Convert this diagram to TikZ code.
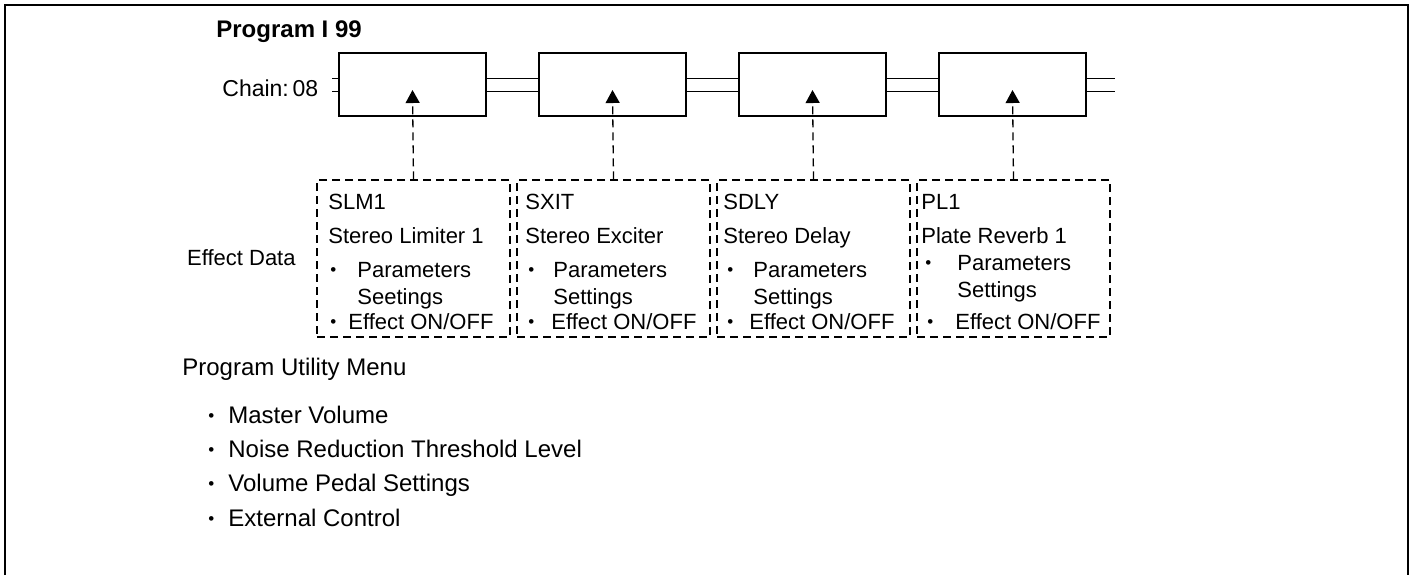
\documentclass[tikz,border=0pt]{standalone}
\usepackage{fontspec}
\setmainfont{Liberation Sans}
\usetikzlibrary{arrows.meta,positioning}

\newcommand{\smallbul}{\raisebox{0.8pt}{\fontsize{8.5}{8.5}\selectfont\textbullet}}

\tikzset{
  fxbox/.style={draw, line width=0.7pt, minimum width=73.5pt, minimum height=31.5pt, inner sep=0pt},
  databox/.style={draw, line width=0.65pt, dash pattern=on 4pt off 2.5pt, minimum width=96.5pt, minimum height=78.5pt, inner sep=0pt},
  link/.style={line width=0.65pt, dash pattern=on 4pt off 2.5pt, -{Triangle[width=7pt,length=6.5pt]}},
  chainline/.style={line width=0.7pt},
  lbl/.style={anchor=base west, inner sep=0pt, font=\fontsize{11.5}{14}\selectfont},
  boxtxt/.style={anchor=base west, inner sep=0pt, font=\fontsize{11}{13}\selectfont},
  menutxt/.style={anchor=base west, inner sep=0pt, font=\fontsize{12}{14}\selectfont},
}

\begin{document}
\begin{tikzpicture}[x=0.5pt, y=-0.5pt]
    \useasboundingbox (0,0) rectangle (1413,575);

    % Outer frame (open at the bottom)
    \draw[line width=0.6pt] (5,575) -- (5,5) -- (1408,5) -- (1408,575);

    % Heading
    \node[lbl, font=\fontsize{12}{14}\selectfont\bfseries] (prog) at (216,37) {Program I 99};
    \node[lbl] (chainlbl) at (222,96) {Chain:\,08};

    % Effect blocks of the chain
    \node[fxbox] (fx1) at (412.5,84.5) {};
    \node[fxbox] (fx2) at (612.5,84.5) {};
    \node[fxbox] (fx3) at (812.5,84.5) {};
    \node[fxbox] (fx4) at (1012.5,84.5) {};

    % Double signal lines
    \draw[chainline] ([yshift=3pt]fx1.west) -- ++(-3pt,0);
    \draw[chainline] ([yshift=-3.5pt]fx1.west) -- ++(-3pt,0);
    \draw[chainline] ([yshift=3pt]fx1.east) -- ([yshift=3pt]fx2.west);
    \draw[chainline] ([yshift=-3.5pt]fx1.east) -- ([yshift=-3.5pt]fx2.west);
    \draw[chainline] ([yshift=3pt]fx2.east) -- ([yshift=3pt]fx3.west);
    \draw[chainline] ([yshift=-3.5pt]fx2.east) -- ([yshift=-3.5pt]fx3.west);
    \draw[chainline] ([yshift=3pt]fx3.east) -- ([yshift=3pt]fx4.west);
    \draw[chainline] ([yshift=-3.5pt]fx3.east) -- ([yshift=-3.5pt]fx4.west);
    \draw[chainline] ([yshift=3pt]fx4.east) -- ++(14pt,0);
    \draw[chainline] ([yshift=-3.5pt]fx4.east) -- ++(14pt,0);

    % Effect data boxes
    \node[databox] (data1) at (413.5,258.5) {};
    \node[databox] (data2) at (613.5,258.5) {};
    \node[databox] (data3) at (813.5,258.5) {};
    \node[databox] (data4) at (1013.5,258.5) {};

    \node[lbl, anchor=base east, font=\fontsize{11}{13}\selectfont] (effdata) at (296,265) {Effect Data};

    % Dashed links up into the blocks
    \draw[link] (data1.north) -- ([yshift=-2.75pt]fx1.center);
    \draw[link] (data2.north) -- ([yshift=-2.75pt]fx2.center);
    \draw[link] (data3.north) -- ([yshift=-2.75pt]fx3.center);
    \draw[link] (data4.north) -- ([yshift=-2.75pt]fx4.center);

    % SLM1
    \node[boxtxt] (slm) at (328,209) {SLM1};
    \node[boxtxt] (slmname) at (328,243) {Stereo Limiter 1};
    \node[boxtxt] (slmbulA) at (330,277) {\smallbul};
    \node[boxtxt] (slmpar) at (357,277) {Parameters};
    \node[boxtxt] (slmset) at (357,304) {Seetings};
    \node[boxtxt] (slmbulB) at (330,329) {\smallbul};
    \node[boxtxt] (slmsw) at (348,329) {Effect ON/OFF};

    % SXIT
    \node[boxtxt] (sxit) at (525,209) {SXIT};
    \node[boxtxt] (sxitname) at (525,243) {Stereo Exciter};
    \node[boxtxt] (sxitbulA) at (528,277) {\smallbul};
    \node[boxtxt] (sxitpar) at (553,277) {Parameters};
    \node[boxtxt] (sxitset) at (553,304) {Settings};
    \node[boxtxt] (sxitbulB) at (528,329) {\smallbul};
    \node[boxtxt] (sxitsw) at (551,329) {Effect ON/OFF};

    % SDLY
    \node[boxtxt] (sdly) at (723,209) {SDLY};
    \node[boxtxt] (sdlyname) at (723,243) {Stereo Delay};
    \node[boxtxt] (sdlybulA) at (727,277) {\smallbul};
    \node[boxtxt] (sdlypar) at (753,277) {Parameters};
    \node[boxtxt] (sdlyset) at (753,304) {Settings};
    \node[boxtxt] (sdlybulB) at (727,329) {\smallbul};
    \node[boxtxt] (sdlysw) at (749,329) {Effect ON/OFF};

    % PL1
    \node[boxtxt] (pl) at (921,209) {PL1};
    \node[boxtxt] (plname) at (921,243) {Plate Reverb 1};
    \node[boxtxt] (plbulA) at (925,270) {\smallbul};
    \node[boxtxt] (plpar) at (957,270) {Parameters};
    \node[boxtxt] (plset) at (957,297) {Settings};
    \node[boxtxt] (plbulB) at (927,329) {\smallbul};
    \node[boxtxt] (plsw) at (955,329) {Effect ON/OFF};

    % Program utility menu
    \node[menutxt] (menu) at (182,375) {Program Utility Menu};
    \node[menutxt] (item1) at (208,423) {\makebox[10pt][l]{\smallbul}Master Volume};
    \node[menutxt] (item2) at (208,457) {\makebox[10pt][l]{\smallbul}Noise Reduction Threshold Level};
    \node[menutxt] (item3) at (208,491) {\makebox[10pt][l]{\smallbul}Volume Pedal Settings};
    \node[menutxt] (item4) at (208,526) {\makebox[10pt][l]{\smallbul}External Control};
\end{tikzpicture}
\end{document}
